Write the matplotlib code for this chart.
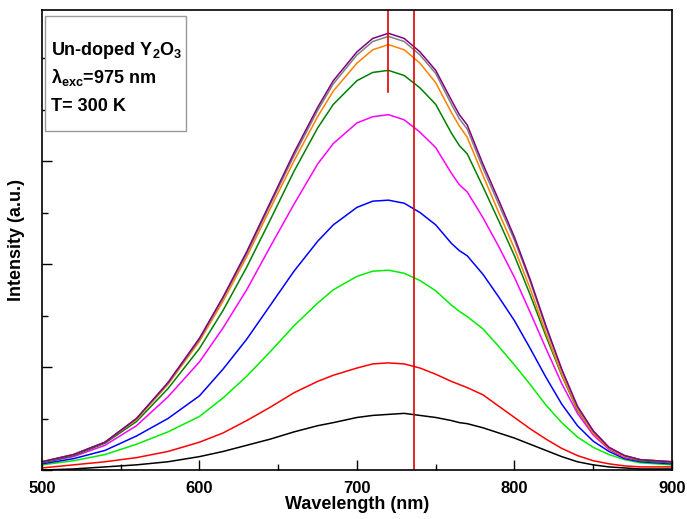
import numpy as np
import matplotlib
matplotlib.use("Agg")
import matplotlib.pyplot as plt
from matplotlib.patches import Rectangle
from matplotlib.ticker import MultipleLocator

plt.rcParams['font.family'] = ['Liberation Sans', 'DejaVu Sans']
plt.rcParams['font.weight'] = 'bold'
plt.rcParams['mathtext.fontset'] = 'custom'
plt.rcParams['mathtext.rm'] = 'Liberation Sans:bold'
plt.rcParams['mathtext.it'] = 'Liberation Sans:bold'
plt.rcParams['mathtext.default'] = 'rm'

# wavelength grid (nm)
wl = [500, 520, 540, 560, 580, 600, 615, 630, 645, 660, 675, 685, 700, 710, 720, 730, 740,
      750, 760, 765, 770, 780, 790, 800, 810, 820, 830, 840, 850, 860, 870, 880, 890, 900]

# intensities (a.u.)
black = [0.00, 0.01, 0.03, 0.05, 0.08, 0.13, 0.18, 0.24, 0.30, 0.37, 0.43, 0.46, 0.51, 0.53, 0.54, 0.55, 0.53,
         0.51, 0.48, 0.46, 0.45, 0.41, 0.36, 0.31, 0.25, 0.19, 0.13, 0.08, 0.05, 0.03, 0.02, 0.01, 0.01, 0.01]
red = [0.02, 0.05, 0.08, 0.12, 0.18, 0.27, 0.36, 0.48, 0.61, 0.75, 0.86, 0.92, 0.99, 1.03, 1.04, 1.03, 0.99,
       0.93, 0.86, 0.83, 0.80, 0.73, 0.62, 0.51, 0.40, 0.30, 0.21, 0.14, 0.09, 0.06, 0.04, 0.03, 0.03, 0.03]
lime = [0.05, 0.09, 0.15, 0.25, 0.37, 0.52, 0.70, 0.91, 1.15, 1.40, 1.62, 1.75, 1.88, 1.93, 1.94, 1.91, 1.84,
        1.74, 1.60, 1.54, 1.49, 1.37, 1.20, 1.02, 0.83, 0.63, 0.46, 0.32, 0.22, 0.15, 0.10, 0.07, 0.06, 0.05]
blue = [0.06, 0.11, 0.19, 0.33, 0.50, 0.72, 0.98, 1.27, 1.60, 1.93, 2.22, 2.38, 2.55, 2.61, 2.62, 2.59, 2.50,
        2.38, 2.20, 2.13, 2.08, 1.90, 1.68, 1.45, 1.18, 0.90, 0.64, 0.43, 0.28, 0.18, 0.11, 0.08, 0.07, 0.06]
magenta = [0.07, 0.13, 0.24, 0.43, 0.71, 1.05, 1.38, 1.75, 2.17, 2.58, 2.97, 3.17, 3.37, 3.43, 3.45, 3.40, 3.28,
           3.13, 2.88, 2.77, 2.70, 2.45, 2.17, 1.87, 1.53, 1.18, 0.84, 0.55, 0.34, 0.20, 0.12, 0.09, 0.08, 0.07]
green = [0.07, 0.14, 0.26, 0.47, 0.79, 1.18, 1.55, 1.97, 2.43, 2.90, 3.32, 3.55, 3.78, 3.86, 3.88, 3.83, 3.71,
         3.55, 3.27, 3.15, 3.07, 2.75, 2.42, 2.08, 1.70, 1.30, 0.92, 0.58, 0.36, 0.21, 0.13, 0.09, 0.08, 0.07]
orange = [0.08, 0.15, 0.27, 0.49, 0.83, 1.25, 1.64, 2.07, 2.54, 3.00, 3.43, 3.68, 3.95, 4.08, 4.13, 4.08, 3.95,
          3.76, 3.47, 3.34, 3.23, 2.86, 2.50, 2.15, 1.76, 1.33, 0.93, 0.59, 0.36, 0.21, 0.13, 0.10, 0.09, 0.08]
gray = [0.08, 0.15, 0.27, 0.50, 0.84, 1.27, 1.67, 2.10, 2.58, 3.05, 3.49, 3.75, 4.03, 4.16, 4.21, 4.16, 4.03,
        3.85, 3.55, 3.41, 3.31, 2.93, 2.58, 2.23, 1.83, 1.38, 0.97, 0.61, 0.38, 0.22, 0.14, 0.10, 0.09, 0.08]
purple = [0.08, 0.15, 0.27, 0.50, 0.85, 1.28, 1.68, 2.12, 2.60, 3.08, 3.52, 3.78, 4.06, 4.19, 4.24, 4.19, 4.06,
          3.88, 3.59, 3.45, 3.35, 2.97, 2.62, 2.26, 1.85, 1.40, 0.98, 0.62, 0.38, 0.22, 0.14, 0.10, 0.09, 0.08]

series = [
    (black, 'black'),
    (red, '#ff0000'),
    (lime, '#00ee00'),
    (blue, '#0000ff'),
    (magenta, '#ff00ff'),
    (green, '#008000'),
    (orange, '#ff8000'),
    (gray, '#808080'),
    (purple, '#800080'),
]

fig = plt.figure(figsize=(6.87, 5.19), dpi=100)
ax = fig.add_axes([0.0611, 0.0944, 0.917, 0.8863])

for vals, col in series:
    ax.plot(wl, vals, color=col, linewidth=1.1)

ax.set_xlim(500, 900)
ax.set_ylim(0, 4.466)

# red marker lines
ax.axvline(720, ymin=0.822, ymax=1, color='#e00000', linewidth=1.2)
ax.axvline(736, color='#e00000', linewidth=1.2)

ax.xaxis.set_major_locator(MultipleLocator(100))
ax.xaxis.set_minor_locator(MultipleLocator(50))
ax.yaxis.set_major_locator(MultipleLocator(1))
ax.yaxis.set_minor_locator(MultipleLocator(0.5))
ax.tick_params(which='both', direction='in', top=False, right=False)
ax.tick_params(which='major', length=7, width=1, labelsize=12, pad=8)
ax.tick_params(which='minor', length=4, width=1)
ax.set_yticklabels([])
for s in ax.spines.values():
    s.set_linewidth(1.2)

ax.set_xlabel('Wavelength (nm)', fontsize=13, fontweight='bold', labelpad=0)
ax.set_ylabel('Intensity (a.u.)', fontsize=13, fontweight='bold', labelpad=4)

# info box
ax.add_patch(Rectangle((0.005, 0.737), 0.224, 0.25, transform=ax.transAxes,
                       facecolor='white', edgecolor='#999999', linewidth=1, zorder=5))
ax.text(0.0143, 0.902, r'Un-doped Y$_2$O$_3$', transform=ax.transAxes,
        fontsize=13, fontweight='bold', zorder=6)
ax.text(0.0143, 0.841, r'$\lambda_{exc}$=975 nm', transform=ax.transAxes,
        fontsize=13, fontweight='bold', zorder=6)
ax.text(0.0143, 0.780, 'T= 300 K', transform=ax.transAxes,
        fontsize=13, fontweight='bold', zorder=6)

fig.savefig('out.png', dpi=100)
